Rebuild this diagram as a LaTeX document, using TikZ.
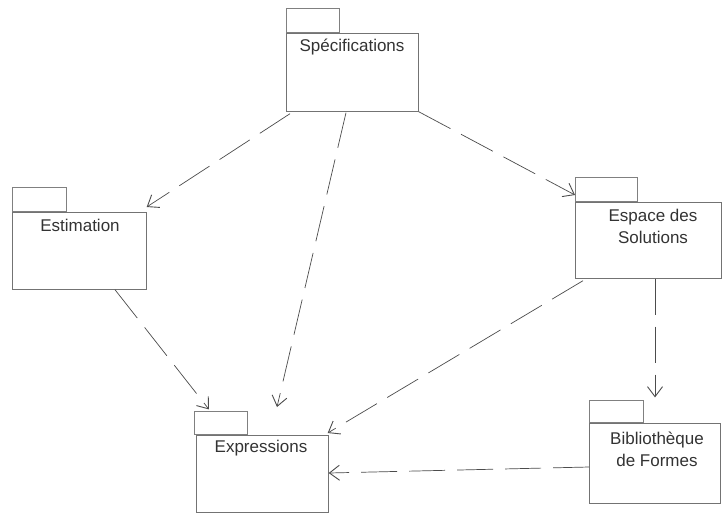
\documentclass[tikz,border=0pt]{standalone}
\usepackage{fontspec}
\setmainfont{Liberation Sans}
\usetikzlibrary{arrows.meta,calc}
\begin{document}
\begin{tikzpicture}[x=1pt,y=-1pt,
  pkgbody/.style={draw=black!55,line width=0.7pt,rectangle,inner sep=0pt,anchor=north west},
  pkgtab/.style={draw=black!50,line width=0.6pt,rectangle,inner sep=0pt,anchor=south west,minimum height=24},
  lbl/.style={text=black!80,font=\fontsize{17}{22}\selectfont,align=center,inner sep=0pt},
  dep/.style={draw=black!70,line width=0.7pt,dash pattern=on 36pt off 12pt,
    -{Straight Barb[length=10pt,width=15pt,line width=0.9pt]}}]
\useasboundingbox (0,0) rectangle (722,515);
\fill[white] (0,0) rectangle (722,515);
% packages
\node[pkgbody,minimum width=132,minimum height=78] (spec) at (286,33) {};
\node[pkgtab,minimum width=53] (spectab) at (spec.north west) {};
\node[lbl] (spect) at (352,47) {Spécifications};

\node[pkgbody,minimum width=134,minimum height=77] (esti) at (12,212) {};
\node[pkgtab,minimum width=54] (estitab) at (esti.north west) {};
\node[lbl] (estit) at (80,225) {Estimation};

\node[pkgbody,minimum width=146,minimum height=76] (esp) at (575,202) {};
\node[pkgtab,minimum width=62] (esptab) at (esp.north west) {};
\node[lbl] (espt) at (653,226) {Espace des\\Solutions};

\node[pkgbody,minimum width=132,minimum height=77] (expr) at (196,435) {};
\node[pkgtab,minimum width=53,minimum height=23] (exprtab) at ($(expr.north west)+(-2,0)$) {};
\node[lbl] (exprt) at (261,448) {Expressions};

\node[pkgbody,minimum width=131,minimum height=80] (bib) at (589,423) {};
\node[pkgtab,minimum width=54,minimum height=22] (bibtab) at (bib.north west) {};
\node[lbl] (bibt) at (657,449) {Bibliothèque\\de Formes};

% dependencies
\draw[dep] ($(spec.south west)+(4,2)$) -- ($(esti.north east)+(0,-5)$);
\draw[dep] ($(spec.south west)+(60,1)$) -- ($(expr.north west)+(81,-28)$);
\draw[dep] (spec.south east) -- ($(esp.north west)+(0,-7)$);
\draw[dep] ($(esti.south west)+(103,0)$) -- ($(exprtab.north west)+(15,-2)$);
\draw[dep] ($(esp.south west)+(8,2)$) -- ($(expr.north east)+(-1,-2)$);
\draw[dep] ($(esp.south west)+(80,0)$) -- ($(bibtab.north west)+(66,-3)$);
\draw[dep] ($(bib.north west)+(0,44)$) -- ($(expr.north east)+(0,38)$);
\end{tikzpicture}
\end{document}
